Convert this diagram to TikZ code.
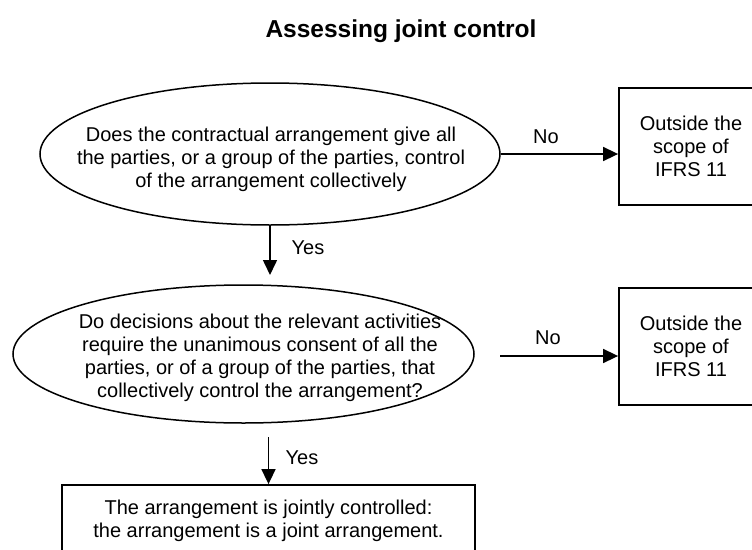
\documentclass[tikz,border=0pt]{standalone}
\usepackage{fontspec}
\setmainfont{Liberation Sans}
\usetikzlibrary{shapes.geometric,arrows.meta}
\begin{document}
\begin{tikzpicture}[x=1pt,y=-1pt,
  txt/.style={font=\fontsize{20}{23}\selectfont, align=center, inner sep=0pt},
  oval/.style={ellipse, draw, line width=1.5pt, inner sep=0pt},
  boxnode/.style={draw, line width=1.8pt, inner sep=0pt, font=\fontsize{20}{23}\selectfont, align=center},
  arr/.style={-{Triangle[length=15pt,width=14pt]}, line width=1.6pt},
  lab/.style={font=\fontsize{20}{23}\selectfont, inner sep=0pt}]
\useasboundingbox (0,0) rectangle (752,549);
\clip (0,0) rectangle (752,549);
\node[font=\fontsize{24.5}{28}\selectfont\bfseries, inner sep=0pt] (title) at (401,31) {Assessing joint control};
% first question
\node[oval, minimum width=460pt, minimum height=142pt] (e1) at (270,154) {};
\node[txt] (e1t) at (271,159.5) {Does the contractual arrangement give all\\the parties, or a group of the parties, control\\of the arrangement collectively};
% second question
\node[oval, minimum width=461pt, minimum height=138pt] (e2) at (243.5,354) {};
\node[txt] (e2t) at (260,357.5) {Do decisions about the relevant activities\\require the unanimous consent of all the\\parties, or of a group of the parties, that\\collectively control the arrangement?};
% outcome boxes
\node[boxnode, minimum width=144pt, minimum height=117pt] (b1) at (691,146.5) {Outside the\\scope of\\IFRS 11};
\node[boxnode, minimum width=144pt, minimum height=117pt] (b2) at (691,346.5) {Outside the\\scope of\\IFRS 11};
\node[boxnode, minimum width=413pt, minimum height=72pt] (b3) at (268.5,521) {The arrangement is jointly controlled:\\the arrangement is a joint arrangement.};
% connectors
\coordinate (a1e) at (270,275);
\coordinate (a2s) at (268.5,437);
\coordinate (a4s) at (500,356);
\draw[arr] (e1.south) -- (a1e);
\draw[arr] (a2s) -- (b3.north);
\draw[arr] (e1.east) -- (e1.east -| b1.west);
\draw[arr] (a4s) -- (a4s -| b2.west);
% labels
\node[lab] (y1) at (308,248) {Yes};
\node[lab] (y2) at (302,458) {Yes};
\node[lab] (n1) at (546,137) {No};
\node[lab] (n2) at (548,338) {No};
\end{tikzpicture}
\end{document}
